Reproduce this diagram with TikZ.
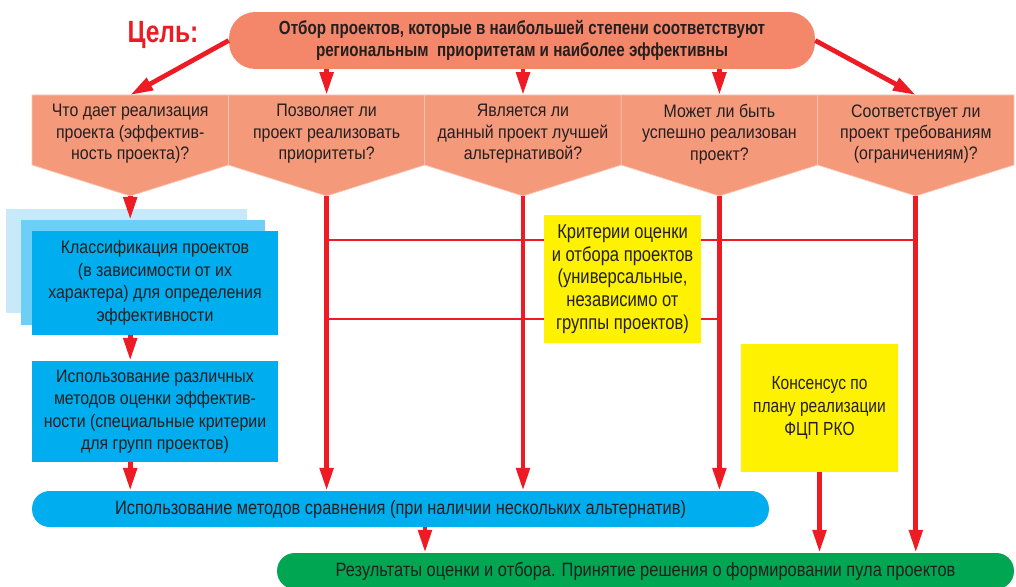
\documentclass[tikz,border=0pt]{standalone}
\usepackage{fontspec}
\setmainfont{Liberation Sans}[FakeStretch=0.88]
\newfontfamily\narrowfont{Liberation Sans}[FakeStretch=0.82]
\newfontfamily\pillfont{Liberation Sans}[FakeStretch=0.85]
\newfontfamily\goalfont{Liberation Sans}[FakeStretch=0.8]
\usetikzlibrary{arrows.meta}
\definecolor{goalorange}{HTML}{F4876A}
\definecolor{qorange}{HTML}{F5997B}
\definecolor{arrred}{HTML}{ED1C24}
\definecolor{txtgray}{HTML}{231F20}
\definecolor{boxblue}{HTML}{00AEEF}
\definecolor{midblue}{HTML}{6DCFF6}
\definecolor{paleblue}{HTML}{C7E9F9}
\definecolor{crityellow}{HTML}{FFF200}
\definecolor{resgreen}{HTML}{00A651}
\begin{document}
\begin{tikzpicture}[x=0.02cm,y=-0.02cm,
    every node/.style={text=txtgray,align=center,inner sep=0pt},
    arr/.style={draw=arrred,line width=2.7pt,-{Triangle[length=13pt,width=7.5pt]}},
    thinlink/.style={draw=arrred,line width=1.5pt},
    qtext/.style={font=\fontsize{10.3}{12.2}\selectfont},
    bluebox/.style={fill=boxblue,minimum width=4.92cm,font=\fontsize{10.3}{12.8}\selectfont},
    yellowbox/.style={fill=crityellow,minimum width=3.14cm,minimum height=2.56cm},
    pill/.style={minimum width=14.74cm,minimum height=0.72cm,rounded corners=10pt,font=\pillfont\fontsize{11}{13}\selectfont}]
    \useasboundingbox (0,0) rectangle (1016,587);
    % goal
    \node[fill=goalorange,minimum width=11.72cm,minimum height=1.14cm,rounded corners=15pt,
        font=\goalfont\bfseries\fontsize{10.8}{12.5}\selectfont] (goal) at (522,40.5)
        {Отбор проектов, которые в наибольшей степени соответствуют\\региональным\ \ приоритетам и наиболее эффективны};
    \node[text=arrred,font=\goalfont\bfseries\fontsize{17.5}{20}\selectfont] (aim) at (163,35) {Цель:};
    % questions
    \foreach \i/\txt in {1/{Что дает реализация\\проекта (эффектив-\\ность проекта)?},
        2/{Позволяет ли\\проект реализовать\\приоритеты?},
        3/{Является ли\\данный проект лучшей\\альтернативой?},
        4/{Может ли быть\\успешно реализован\\проект?},
        5/{Соответствует ли\\проект требованиям\\(ограничениям)?}}{
        \pgfmathsetmacro\xa{32+196.4*(\i-1)}
        \pgfmathsetmacro\xm{\xa+98.2}
        \filldraw[fill=qorange,draw=qorange!55!white,line width=0.4pt]
            (\xa,95) -- ++(196.4,0) -- ++(0,70) -- (\xm,196) -- (\xa,165) -- cycle;
        \coordinate (top\i) at (\xm,95);
        \coordinate (tip\i) at (\xm,196);
        \node[qtext] (q\i) at (\xm,134) {\txt};
    }
    \draw[arr] (goal.west) -- (top1);
    \draw[arr] (goal.east) -- (top5);
    \foreach \i in {2,3,4}
        \draw[arr] (goal.south -| top\i) -- (top\i);
    % criteria links
    \coordinate (h1) at (0,240);
    \coordinate (h2) at (0,319);
    \draw[thinlink] (tip2 |- h1) -- (tip5 |- h1);
    \draw[thinlink] (tip2 |- h2) -- (tip4 |- h2);
    % blue stack
    \node[fill=paleblue,minimum width=4.82cm,minimum height=2.08cm] (clsback) at (126.5,261) {};
    \node[fill=midblue,minimum width=4.88cm,minimum height=2.1cm] (clsmid) at (143,272.5) {};
    \node[bluebox,minimum height=2.08cm] (cls) at (155,283)
        {Классификация проектов\\(в зависимости от их\\характера) для определения\\эффективности};
    \node[bluebox,minimum height=2.02cm] (meth) at (155,411.5)
        {Использование различных\\методов оценки эффектив-\\ности (специальные критерии\\для групп проектов)};
    % yellow boxes
    \node[yellowbox,font=\narrowfont\fontsize{11.5}{13}\selectfont] (crit) at (622.5,279)
        {Критерии оценки\\и отбора проектов\\(универсальные,\\независимо от\\группы проектов)};
    \node[yellowbox,font=\narrowfont\fontsize{10.8}{13}\selectfont] (cons) at (819.5,408)
        {Консенсус по\\плану реализации\\ФЦП РКО};
    % bottom
    \node[pill,fill=boxblue] (cmp) at (400.5,509)
        {Использование методов сравнения (при наличии нескольких альтернатив)};
    \node[pill,fill=resgreen] (res) at (645.5,571)
        {Результаты оценки и отбора. Принятие решения о формировании пула проектов};
    \coordinate (drop) at (425,0);
    % arrows
    \draw[arr] (tip1) -- (clsmid.north -| tip1);
    \draw[arr] (cls.south -| tip1) -- (meth.north -| tip1);
    \draw[arr] (meth.south -| tip1) -- (cmp.north -| tip1);
    \foreach \i in {2,3,4}
        \draw[arr] (tip\i) -- (cmp.north -| tip\i);
    \draw[arr] (tip5) -- (res.north -| tip5);
    \draw[arr] (cons.south) -- (res.north -| cons.south);
    \draw[arr] (cmp.south -| drop) -- (res.north -| drop);
\end{tikzpicture}
\end{document}
